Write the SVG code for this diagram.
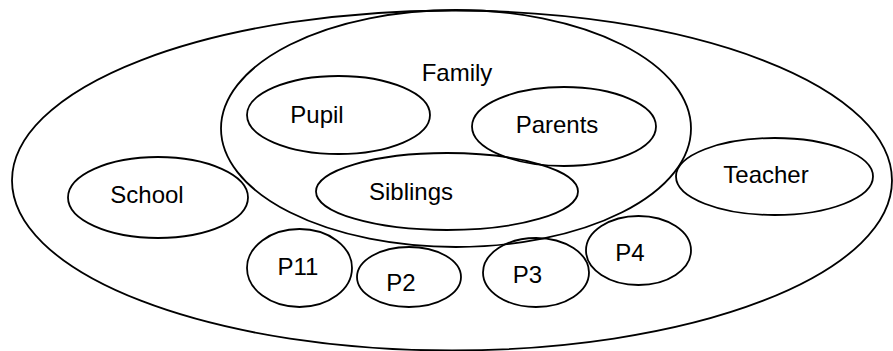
<svg xmlns="http://www.w3.org/2000/svg" width="893" height="351" viewBox="0 0 893 351">
<style>
ellipse{fill:none;stroke:#000;stroke-width:1.8}
text{font-family:"Liberation Sans",Arial,sans-serif;font-size:24px;fill:#000;text-anchor:middle}
</style>
<rect width="893" height="351" fill="#fff"/>
<g id="outer"><ellipse cx="452" cy="180.5" rx="440" ry="170"/></g>
<g id="family"><ellipse cx="456" cy="128.5" rx="235" ry="118.5"/><text x="457" y="81">Family</text></g>
<g id="pupil"><ellipse cx="338.5" cy="115" rx="91.5" ry="39"/><text x="317" y="123">Pupil</text></g>
<g id="parents"><ellipse cx="564" cy="126.5" rx="92" ry="39.5"/><text x="557" y="133">Parents</text></g>
<g id="siblings"><ellipse cx="447" cy="191.5" rx="131" ry="38.5"/><text x="411" y="200">Siblings</text></g>
<g id="school"><ellipse cx="158" cy="197.5" rx="90" ry="40.5"/><text x="147" y="203">School</text></g>
<g id="teacher"><ellipse cx="774.5" cy="176.5" rx="98.5" ry="38.5"/><text x="766" y="183">Teacher</text></g>
<g id="p11"><ellipse cx="299.5" cy="268" rx="52.5" ry="39"/><text x="298" y="275">P11</text></g>
<g id="p2"><ellipse cx="409" cy="277" rx="52" ry="30"/><text x="401" y="291">P2</text></g>
<g id="p3"><ellipse cx="536" cy="272.5" rx="53" ry="34.5"/><text x="527.5" y="283">P3</text></g>
<g id="p4"><ellipse cx="638.5" cy="250.5" rx="52.5" ry="34.5"/><text x="630" y="261">P4</text></g>
<g id="connectors"></g>
</svg>
